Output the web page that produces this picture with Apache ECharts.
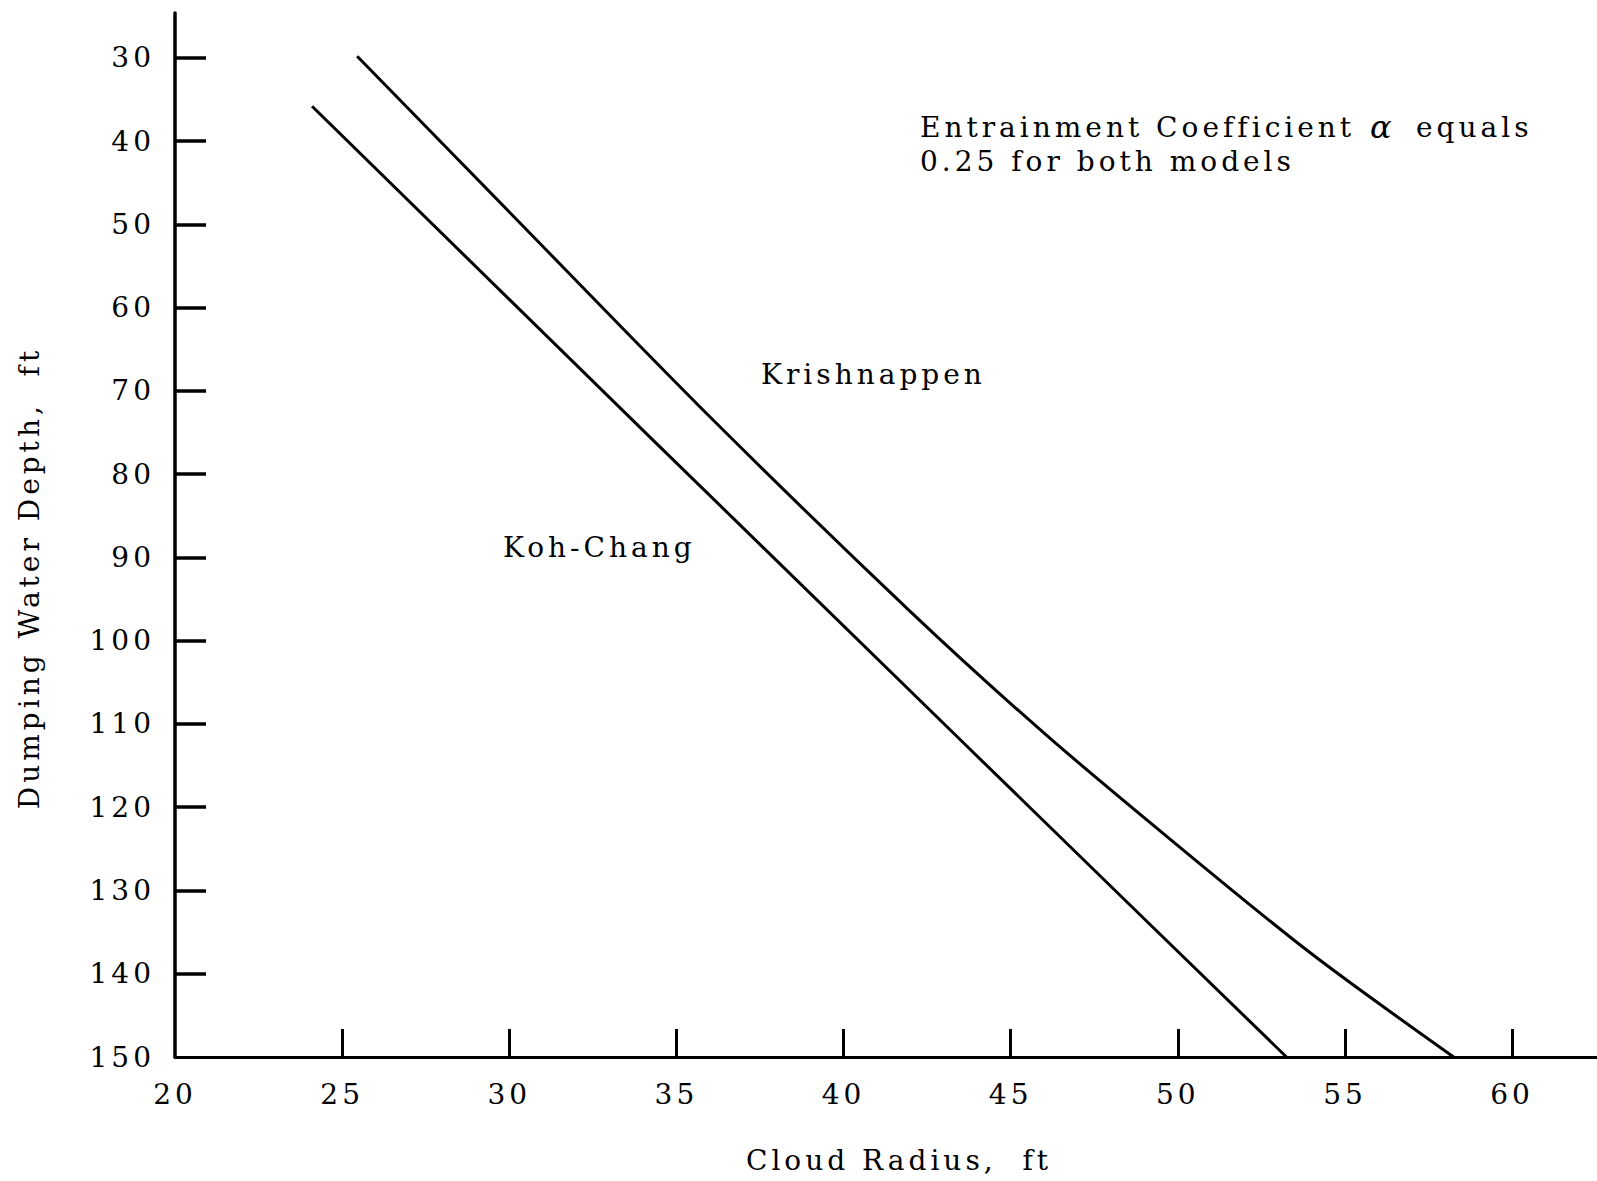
<!DOCTYPE html>
<html>
<head>
<meta charset="utf-8">
<script src="https://cdn.jsdelivr.net/npm/echarts@6/dist/echarts.min.js"></script>
<style>
html,body{margin:0;padding:0;background:#ffffff;}
#chart{width:1597px;height:1181px;letter-spacing:4px;}
</style>
</head>
<body>
<div id="chart"></div>
<script>
// ---- data ----
const xTickValues = [25, 30, 35, 40, 45, 50, 55, 60];
const xLabelValues = [20, 25, 30, 35, 40, 45, 50, 55, 60];
const yTickValues = [30, 40, 50, 60, 70, 80, 90, 100, 110, 120, 130, 140];
const yLabelValues = [30, 40, 50, 60, 70, 80, 90, 100, 110, 120, 130, 140, 150];

const kohChangRadius = [24.1, 34.3, 43.8, 49.2, 53.25];
const kohChangDepth  = [35.8, 75.9, 113.1, 134.2, 150];

const krishnappenRadius = [25.45, 30.0, 36.0, 42.0, 46.0, 50.0, 54.0, 58.25];
const krishnappenDepth  = [29.8, 48.5, 73.1, 96.5, 111.1, 124.6, 137.6, 150];

const xTitle = 'Cloud Radius,  ft';
const yTitle = 'Dumping Water Depth,  ft';
const labelKoh = 'Koh-Chang';
const labelKri = 'Krishnappen';
const noteLine1a = 'Entrainment Coefficient';
const noteAlpha = 'α';
const noteLine1b = 'equals';
const noteLine2 = '0.25 for both models';

// ---- build ----
const pairs = (xs, ys) => xs.map((x, i) => [x, ys[i]]);
const FONT = 'DejaVu Serif';
const FS = 28;
const FONTSTR = FS + 'px "' + FONT + '"';

const chart = echarts.init(document.getElementById('chart'), null, {renderer: 'svg'});
chart.setOption({
  backgroundColor: '#ffffff',
  animation: false,
  grid: {left: 175, right: 0, top: 13, bottom: 124, containLabel: false},
  xAxis: {
    type: 'value',
    min: 20, max: 62.54,
    splitLine: {show: false},
    axisLine: {show: true, onZero: false, lineStyle: {color: '#000', width: 3}},
    axisTick: {show: true, inside: true, length: 28, customValues: xTickValues,
               lineStyle: {color: '#000', width: 3}},
    axisLabel: {show: true, customValues: xLabelValues, margin: 23,
                fontFamily: FONT, fontSize: FS, color: '#000'}
  },
  yAxis: {
    type: 'value',
    inverse: true,
    min: 24.6, max: 150,
    splitLine: {show: false},
    axisLine: {show: true, onZero: false, lineStyle: {color: '#000', width: 3.5}},
    axisTick: {show: true, inside: true, length: 31, customValues: yTickValues,
               lineStyle: {color: '#000', width: 3.5}},
    axisLabel: {show: true, customValues: yLabelValues, margin: 20,
                fontFamily: FONT, fontSize: FS, color: '#000'}
  },
  series: [
    {
      name: 'Koh-Chang', type: 'line', data: pairs(kohChangRadius, kohChangDepth),
      showSymbol: false, smooth: false, clip: false,
      lineStyle: {color: '#000', width: 3}
    },
    {
      name: 'Krishnappen', type: 'line', data: pairs(krishnappenRadius, krishnappenDepth),
      showSymbol: false, smooth: 0.3, clip: false,
      lineStyle: {color: '#000', width: 3}
    }
  ],
  graphic: [
    {type: 'text', x: 503, y: 547,
     style: {text: labelKoh, font: FONTSTR, fill: '#000', verticalAlign: 'middle'}},
    {type: 'text', x: 761, y: 374,
     style: {text: labelKri, font: FONTSTR, fill: '#000', verticalAlign: 'middle'}},
    {type: 'text', x: 920, y: 127,
     style: {text: noteLine1a, font: FONTSTR, fill: '#000', verticalAlign: 'middle'}},
    {type: 'text', x: 1370, y: 127,
     style: {text: noteAlpha, font: 'italic ' + (FS + 4) + 'px "' + FONT + '"', fill: '#000', verticalAlign: 'middle'}},
    {type: 'text', x: 1416, y: 127,
     style: {text: noteLine1b, font: FONTSTR, fill: '#000', verticalAlign: 'middle'}},
    {type: 'text', x: 920, y: 161,
     style: {text: noteLine2, font: FONTSTR, fill: '#000', verticalAlign: 'middle'}},
    {type: 'text', x: 899, y: 1160,
     style: {text: xTitle, font: FONTSTR, fill: '#000', align: 'center', verticalAlign: 'middle'}},
    {type: 'text', x: 29, y: 578, rotation: Math.PI / 2,
     style: {text: yTitle, font: FONTSTR, fill: '#000', align: 'center', verticalAlign: 'middle'}}
  ]
});
</script>
</body>
</html>
